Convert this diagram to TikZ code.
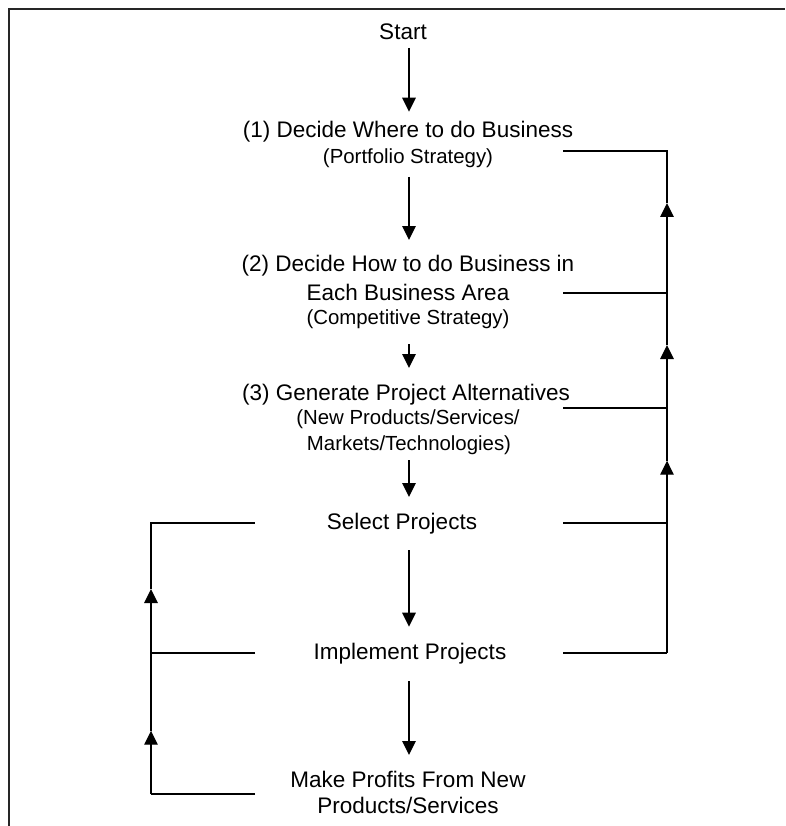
\documentclass[tikz,border=0pt]{standalone}
\usepackage{fontspec}
\setmainfont{Liberation Sans}
\usetikzlibrary{arrows.meta}
\tikzset{
  big/.style={font=\fontsize{22.5}{27}\selectfont, anchor=base, inner sep=0pt},
  small/.style={font=\fontsize{20.4}{24}\selectfont, anchor=base, inner sep=0pt},
  arr/.style={line width=1.4pt, -{Triangle[length=14pt,width=13.5pt]}},
  fb/.style={line width=2pt},
  frameline/.style={line width=2pt, black!85}
}
\begin{document}
\begin{tikzpicture}[x=1pt,y=-1pt]
\useasboundingbox (0,0) rectangle (785,826);
\draw[frameline] (9,826) -- (9,9) -- (785,9);

% texts
\node[big] (start) at (403,40) {Start};
\node[big] (s1a) at (408,137.5) {(1) Decide Where to do Business};
\node[small] (s1b) at (408,164) {(Portfolio Strategy)};
\node[big] (s2a) at (408,271.5) {(2) Decide How to do Business in};
\node[big] (s2b) at (408,300) {Each Business Area};
\node[small] (s2c) at (408,324.5) {(Competitive Strategy)};
\node[big] (s3a) at (406,400.5) {(3) Generate Project Alternatives};
\node[small] (s3b) at (408,424) {(New Products/Services/};
\node[small] (s3c) at (409,450) {Markets/Technologies)};
\node[big] (sel) at (402,529) {Select Projects};
\node[big] (imp) at (410,659) {Implement Projects};
\node[big] (mk1) at (408,787.5) {Make Profits From New};
\node[big] (mk2) at (408,813) {Products/Services};

% main arrow ends
\coordinate (a0s) at (409,48);    \coordinate (a0e) at (409,111.7);
\coordinate (a1s) at (409,177);   \coordinate (a1e) at (409,240);
\coordinate (a2s) at (409,344);   \coordinate (a2e) at (409,368);
\coordinate (a3s) at (409,460);   \coordinate (a3e) at (409,497);
\coordinate (a4s) at (409,550);   \coordinate (a4e) at (409,626.7);
\coordinate (a5s) at (409,681);   \coordinate (a5e) at (409,755);

\draw[arr] (a0s) -- (a0e);
\draw[arr] (a1s) -- (a1e);
\draw[arr] (a2s) -- (a2e);
\draw[arr] (a3s) -- (a3e);
\draw[arr] (a4s) -- (a4e);
\draw[arr] (a5s) -- (a5e);

% right feedback
\coordinate (r1) at (563,151);  \coordinate (R1) at (667,151);
\coordinate (r2) at (563,293);  \coordinate (R2) at (667,293);
\coordinate (r3) at (563,408);  \coordinate (R3) at (667,408);
\coordinate (r4) at (563,523);  \coordinate (R4) at (667,523);
\coordinate (r5) at (563,653);  \coordinate (R5) at (667,653);
\coordinate (t1) at (667,203);
\coordinate (t2) at (667,345);
\coordinate (t3) at (667,460.7);

\draw[fb] (t1) -- (R1) -- (r1);
\draw[fb] (r2) -- (R2);
\draw[fb] (r3) -- (R3);
\draw[fb] (r4) -- (R4);
\draw[fb] (r5) -- (R5);
\draw[arr] (R5) -- (t3);
\draw[arr] (t3) -- (t2);
\draw[arr] (t2) -- (t1);

% left feedback
\coordinate (l1) at (255,523);  \coordinate (L1) at (151,523);
\coordinate (l2) at (255,653);  \coordinate (L2) at (151,653);
\coordinate (l3) at (255,794);  \coordinate (L3) at (151,794);
\coordinate (u1) at (151,589);
\coordinate (u2) at (151,730.7);

\draw[fb] (u1) -- (L1) -- (l1);
\draw[fb] (l2) -- (L2);
\draw[fb] (l3) -- (L3);
\draw[arr] (L3) -- (u2);
\draw[arr] (u2) -- (u1);
\end{tikzpicture}
\end{document}
